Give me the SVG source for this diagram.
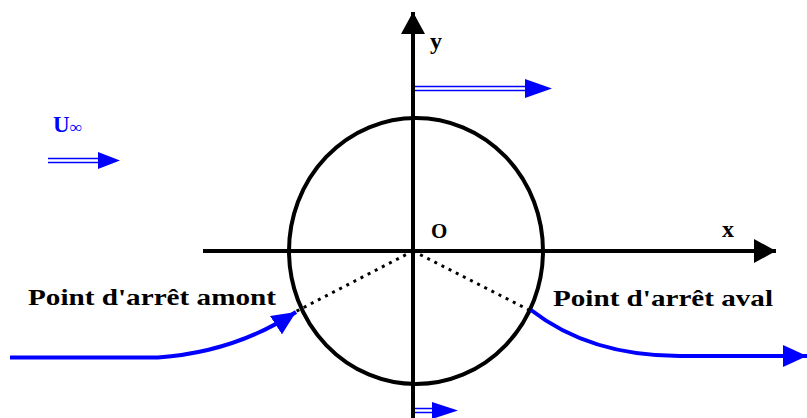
<svg xmlns="http://www.w3.org/2000/svg" width="807" height="418" viewBox="0 0 807 418">
<style>
.lbl{font-family:"Liberation Serif","DejaVu Serif",serif;font-weight:bold;fill:#000}
.ax{stroke:#000;stroke-width:4;fill:none}
.flow{stroke:#0000ff;stroke-width:4;fill:none}
.dbl{stroke:#0000ff;stroke-width:1.5;fill:none}
</style>
<defs>
<marker id="ab" markerUnits="userSpaceOnUse" markerWidth="24" markerHeight="24" refX="22" refY="12" orient="auto"><path d="M0,0 L22,12 L0,24 Z" fill="#000"/></marker>
<marker id="fb" markerUnits="userSpaceOnUse" markerWidth="26" markerHeight="22" refX="24" refY="11" orient="auto"><path d="M0,0 L24,11 L0,22 Z" fill="#0000ff"/></marker>
</defs>
<rect width="807" height="418" fill="#fff"/>
<g id="axes">
<line class="ax" x1="203" y1="251" x2="776" y2="251" marker-end="url(#ab)"/>
<line class="ax" x1="413" y1="418" x2="413" y2="12" marker-end="url(#ab)"/>
<text class="lbl" x="431" y="238" font-size="21">O</text>
<text class="lbl" x="722" y="237" font-size="24">x</text>
<text class="lbl" x="430" y="49" font-size="24">y</text>
</g>
<g id="cylinder">
<ellipse cx="416" cy="251" rx="127" ry="133" fill="none" stroke="#000" stroke-width="4"/>
<path d="M413,251 L293,313 M413,251 L531,311" stroke="#000" stroke-width="3" stroke-dasharray="3,5" fill="none"/>
</g>
<g id="uinf">
<text class="lbl" x="53" y="132" font-size="23" style="fill:#0000ff">U<tspan font-size="17" dy="1">∞</tspan></text>
<path class="dbl" d="M48,158.5 H104 M48,162.5 H104" />
<path d="M98,152 L120,160.5 L98,169 Z" fill="#0000ff"/>
</g>
<g id="connectors">
<path class="dbl" d="M415,86.5 H532 M415,90.5 H532"/>
<path d="M525,79 L552,88.5 L525,98 Z" fill="#0000ff"/>
<path class="dbl" d="M415,408.5 H440 M415,412.5 H440"/>
<path d="M432,402 L458,410.5 L432,419 Z" fill="#0000ff"/>
<path class="flow" d="M10,357.5 H158 Q235,352 296,312" marker-end="url(#fb)"/>
<path class="flow" d="M531,310 Q590,356 680,356 H807" marker-end="url(#fb)"/>
</g>
<g id="labels">
<text class="lbl" x="28" y="305" font-size="24" textLength="248" lengthAdjust="spacingAndGlyphs">Point d'arrêt amont</text>
<text class="lbl" x="553" y="306" font-size="24" textLength="220" lengthAdjust="spacingAndGlyphs">Point d'arrêt aval</text>
</g>
</svg>
